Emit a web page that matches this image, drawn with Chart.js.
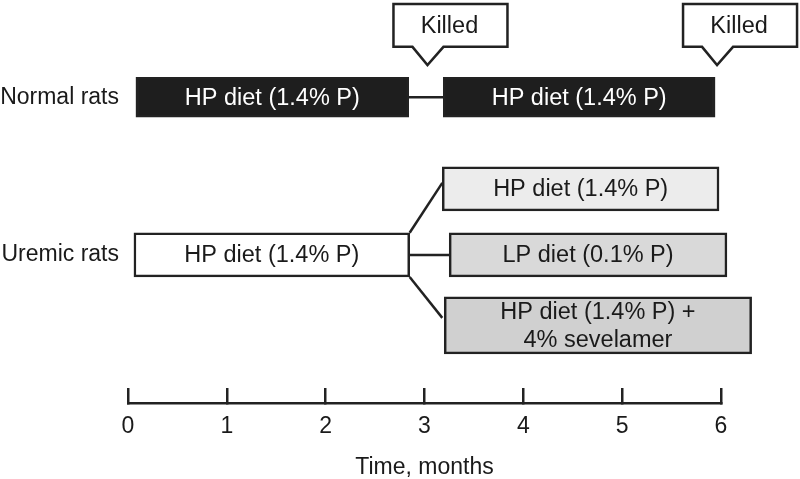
<!DOCTYPE html>
<html>
<head>
<meta charset="utf-8">
<script src="https://cdn.jsdelivr.net/npm/chart.js@4.4.1/dist/chart.umd.min.js"></script>
<style>
  html, body { margin: 0; padding: 0; background: #fff; }
</style>
</head>
<body>
<canvas id="myChart" width="800" height="479"></canvas>
<script>
const FONT = "'Liberation Sans', Arial, Helvetica, sans-serif";

// Time axis, months
const monthTicks = [0, 1, 2, 3, 4, 5, 6];

// Groups shown on the left
const groupNames = ["Normal rats", "Uremic rats"];
const groupLanes = [1.93, 5.06];

// Diet periods (start / end month, lane)
const dietLabels = [
  "HP diet (1.4% P)",
  "HP diet (1.4% P)",
  "HP diet (1.4% P)",
  "HP diet (1.4% P)",
  "LP diet (0.1% P)",
  ["HP diet (1.4% P) +", "4% sevelamer"]
];
const dietStart = [0.08, 3.19, 0.06, 3.18, 3.25, 3.20];
const dietEnd = [2.84, 5.94, 2.85, 5.98, 6.06, 6.31];
const dietLane = [1.93, 1.93, 5.06, 3.75, 5.06, 6.46];

// Lines linking the periods: [month, lane]
const linkFrom = [[2.84, 1.93], [2.85, 4.62], [2.85, 5.06], [2.85, 5.50]];
const linkTo = [[3.19, 1.93], [3.18, 3.63], [3.25, 5.06], [3.18, 6.31]];

// Time points where normal rats were killed
const killedAt = [3.03, 5.96];
const killedText = "Killed";

// styles
const boxHeight = [40, 40, 44, 44, 44, 57];
const boxFill = ["#1e1e1e", "#1e1e1e", "#ffffff", "#ececec", "#d9d9d9", "#d0d0d0"];
const boxTextColor = ["#ffffff", "#ffffff", "#1a1a1a", "#1a1a1a", "#1a1a1a", "#1a1a1a"];
const lineColor = "#222222";
const textColor = "#1a1a1a";

// callout geometry, in lane units
const calloutTop = 0.08;
const calloutBottom = 0.93;
const calloutTip = 1.29;

const barSets = dietLabels.map((lbl, i) => ({
  type: "bar",
  label: Array.isArray(lbl) ? lbl.join(" ") : lbl,
  data: [{ x: [dietStart[i], dietEnd[i]], y: dietLane[i] }],
  indexAxis: "y",
  grouped: false,
  barThickness: boxHeight[i],
  backgroundColor: boxFill[i],
  borderColor: lineColor,
  borderWidth: 2.5,
  borderSkipped: false,
  clip: false
}));

const linkSets = linkFrom.map((p, i) => ({
  type: "line",
  data: [{ x: p[0], y: p[1] }, { x: linkTo[i][0], y: linkTo[i][1] }],
  borderColor: lineColor,
  borderWidth: 2.5,
  pointRadius: 0,
  fill: false,
  tension: 0,
  clip: false
}));

// Draws the text inside the boxes and the "Killed" callouts
const labelPlugin = {
  id: "boxText",
  afterDatasetsDraw(chart) {
    const ctx = chart.ctx;
    const xs = chart.scales.x;
    const ys = chart.scales.y;
    ctx.save();
    ctx.textAlign = "center";
    ctx.textBaseline = "middle";
    ctx.font = "23.5px " + FONT;
    dietLabels.forEach((lbl, i) => {
      const bar = chart.getDatasetMeta(i).data[0];
      const cx = (bar.x + bar.base) / 2;
      const lines = Array.isArray(lbl) ? lbl : [lbl];
      ctx.fillStyle = boxTextColor[i];
      lines.forEach((t, k) => {
        ctx.fillText(t, cx, bar.y + 1 + (k - (lines.length - 1) / 2) * 28);
      });
    });

    killedAt.forEach((m) => {
      const tx = xs.getPixelForValue(m);
      const tipY = ys.getPixelForValue(calloutTip);
      const top = ys.getPixelForValue(calloutTop);
      const bot = ys.getPixelForValue(calloutBottom);
      const left = tx - 34;
      const right = tx + 80;
      ctx.beginPath();
      ctx.moveTo(left, top);
      ctx.lineTo(right, top);
      ctx.lineTo(right, bot);
      ctx.lineTo(tx + 16, bot);
      ctx.lineTo(tx, tipY);
      ctx.lineTo(tx - 15, bot);
      ctx.lineTo(left, bot);
      ctx.closePath();
      ctx.fillStyle = "#ffffff";
      ctx.fill();
      ctx.lineWidth = 2.5;
      ctx.lineJoin = "miter";
      ctx.strokeStyle = lineColor;
      ctx.stroke();
      ctx.fillStyle = textColor;
      ctx.fillText(killedText, (left + right) / 2 - 1, (top + bot) / 2 + 1);
    });
    ctx.restore();
  }
};

const ctx = document.getElementById("myChart").getContext("2d");
const myChart = new Chart(ctx, {
  type: "bar",
  data: { datasets: [...barSets, ...linkSets] },
  options: {
    responsive: false,
    animation: false,
    layout: { padding: { left: 0, right: 79, top: 0, bottom: 0 } },
    plugins: {
      legend: { display: false },
      tooltip: { enabled: false }
    },
    scales: {
      x: {
        type: "linear",
        position: "bottom",
        min: 0,
        max: 6,
        offset: false,
        afterBuildTicks: (s) => { s.ticks = monthTicks.map((v) => ({ value: v })); },
        afterFit: (s) => { s.height = 76; s.paddingLeft = 0; s.paddingRight = 0; },
        ticks: {
          font: { family: FONT, size: 23 },
          color: textColor,
          padding: 25,
          autoSkip: false,
          maxRotation: 0
        },
        grid: {
          offset: false,
          drawOnChartArea: false,
          tickLength: -15,
          color: lineColor,
          lineWidth: 2.5
        },
        border: { display: true, color: lineColor, width: 2.5 },
        title: {
          display: true,
          text: "Time, months",
          font: { family: FONT, size: 23, lineHeight: 1 },
          color: textColor,
          padding: 0
        }
      },
      y: {
        type: "linear",
        min: 0,
        max: 8,
        reverse: true,
        offset: false,
        afterBuildTicks: (s) => { s.ticks = groupLanes.map((v) => ({ value: v })); },
        afterFit: (s) => { s.width = 128; s.paddingTop = 0; s.paddingBottom = 0; },
        ticks: {
          callback: (v, i) => groupNames[i],
          font: { family: FONT, size: 23 },
          color: textColor,
          padding: 9,
          autoSkip: false
        },
        grid: { display: false, drawTicks: false, offset: false },
        border: { display: false }
      }
    }
  },
  plugins: [labelPlugin]
});
</script>
</body>
</html>
